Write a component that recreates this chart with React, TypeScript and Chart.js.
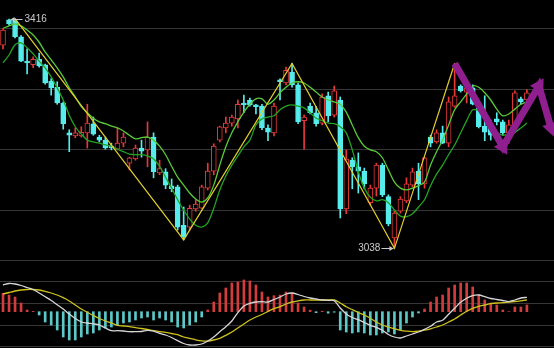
import React, { useEffect, useRef } from 'react';
import { Chart, registerables } from 'chart.js';
Chart.register(...registerables);

// ---- data ----
const SLOTS = 92; // 88 trading days + 4 projection slots
const labels: string[] = Array.from({ length: SLOTS }, (_, i) => String(i));

const opens = [3372,3414,3412,3386,3346,3340,3349,3340,3313,3303, 3277,3228,3223,3223,3228,3243,3221,3216,3206,3201, 3211,3178,3185,3203,3200,3221,3162,3164,3141,3139, 3076,3073,3103,3104,3137,3165,3216,3236,3244,3251, 3277,3282,3274,3272,3236,3228,3315,3310,3328,3307, 3248,3272,3261,3244,3289,3257,3282,3103,3183,3172, 3165,3113,3137,3175,3123,3055,3099,3116,3142,3165, 3144,3221,3213,3228,3211,3272,3305,3295,3302,3269, 3239,3241,3251,3246,3228,3239,3284,3282];
const closes = [3397,3407,3386,3346,3343,3349,3338,3310,3302,3277, 3243,3224,3228,3229,3244,3226,3216,3203,3203,3211, 3221,3187,3203,3198,3221,3164,3169,3142,3136,3073, 3057,3104,3111,3139,3165,3206,3238,3244,3254,3275, 3274,3274,3271,3236,3229,3272,3312,3331,3307,3246, 3254,3261,3243,3287,3256,3297,3103,3185,3172,3165, 3144,3137,3175,3126,3078,3096,3119,3144,3164,3144, 3187,3211,3228,3211,3279,3289,3297,3302,3275,3238, 3229,3224,3246,3228,3241,3294,3279,3294];
const highs = [3399,3415,3416,3388,3366,3353,3359,3341,3317,3312, 3279,3233,3236,3238,3275,3254,3224,3221,3211,3236, 3228,3188,3208,3216,3246,3228,3183,3169,3152,3142, 3106,3109,3118,3142,3178,3210,3239,3254,3257,3282, 3290,3285,3275,3275,3241,3277,3317,3336,3342,3310, 3257,3277,3271,3292,3295,3305,3287,3200,3187,3195, 3170,3142,3178,3178,3126,3099,3123,3154,3170,3178, 3188,3224,3233,3239,3287,3342,3307,3307,3307,3272, 3289,3249,3261,3249,3249,3297,3287,3299];
const lows = [3366,3405,3384,3345,3325,3335,3336,3308,3290,3275, 3234,3197,3220,3221,3203,3224,3213,3201,3200,3200, 3205,3167,3183,3188,3172,3154,3159,3136,3131,3068, 3052,3068,3099,3103,3134,3159,3213,3228,3239,3236, 3261,3272,3259,3233,3215,3223,3282,3307,3303,3243, 3201,3259,3239,3241,3246,3254,3088,3095,3136,3129, 3136,3109,3124,3123,3075,3038,3096,3113,3139,3118, 3137,3205,3211,3210,3205,3270,3295,3277,3274,3236, 3215,3216,3241,3224,3211,3228,3275,3279];

const maA = [3400,3404,3407,3404,3397,3389,3377,3361,3348,3335, 3320,3302,3287,3271,3261,3252,3246,3243,3239,3236, 3231,3224,3218,3220,3221,3216,3206,3192,3173,3155, 3142,3129,3119,3114,3121,3142,3175,3205,3228,3246, 3262,3275,3284,3284,3275,3282,3294,3303,3310,3312, 3310,3303,3295,3287,3282,3279,3275,3262,3241,3220, 3206,3200,3197,3187,3167,3147,3137,3134,3137,3141, 3147,3175,3197,3216,3241,3266,3279,3292,3305,3303, 3294,3282,3267,3256,3259,3267,3275,3279];
const maB = [3343,3356,3373,3376,3368,3358,3346,3335,3320,3302, 3282,3257,3238,3226,3216,3213,3211,3208,3206,3201, 3197,3193,3192,3192,3190,3185,3173,3155,3137,3118, 3101,3086,3076,3073,3080,3104,3134,3157,3175,3190, 3205,3216,3241,3251,3254,3256,3266,3272,3274,3272, 3269,3261,3252,3248,3244,3243,3238,3228,3200,3164, 3137,3122,3116,3118,3113,3101,3091,3090,3095,3106, 3118,3141,3160,3175,3192,3208,3228,3248,3266,3264, 3252,3239,3229,3224,3226,3229,3236,3244];

const zigIdx = [2, 30, 48, 65, 75];
const zigVal = [3416, 3052, 3342, 3038, 3342];

const projIdx = [75, 83, 89, 91];
const projVal = [3342, 3205, 3305, 3236];
const projRot = [0, 151, 31, 163];

const markIdx = [2, 65];
const markVal = [3416, 3038];
const markText = ['3416', '3038'];
const markSide = ['right', 'left'];

const macdHist = [18.4,16.7,14.7,8.7,1.7,0.3,-3.3,-10.3,-13.3,-18.3, -25.3,-28.3,-28.3,-25.3,-22.3,-21.3,-18.3,-16.3,-15.3,-13.3, -11.3,-10.3,-8.3,-6.3,-5.3,-8.3,-6.3,-8.3,-10.3,-15.3, -16.3,-13.3,-10.3,-5.3,1.7,9.7,18.7,23.7,28.7,29.7, 31.7,30.7,26.7,19.7,14.7,16,16.7,19.7,18.7,8.7, 4.7,1.5,-1,0.5,-1.5,-0.5,-18.3,-20.3,-21.3,-20.3, -21.3,-23.3,-23.3,-21.3,-20.3,-22.3,-18.3,-11.3,-5.3,-1.3, 2.7,9.7,14.7,16.7,23.7,26.7,28.7,28.7,24.7,16.7, 11.7,8.7,6.7,1.7,0,4.7,4.7,6.7];
const dif = [26.7,28.2,27.7,26.2,24.2,22.2,18.7,15,11.2,7, 2.7,-2.3,-6.8,-10.3,-11.3,-12.1,-13.3,-16.3,-19,-19, -19.3,-20,-20,-19.8,-18.6,-19.5,-21.6,-23.3,-25.8,-29, -31.8,-33.3,-33.3,-32.3,-29.3,-25.3,-20,-15,-9.3,-1, 5.7,8.4,9.7,10,9.7,12.2,14.7,17.7,18.7,17.2, 15.2,13.7,12.7,11.7,11.4,11,3.7,-2.3,-5.8,-8, -10.8,-13.6,-15.6,-18.6,-22.8,-25.3,-26.3,-24.3,-22.3,-20.3, -17.6,-14.6,-10.3,-8.6,-2.6,3.4,9.4,13.4,16,16.7, 15,13.2,12.2,11.2,10.1,11.7,13.7,14.4];
const dea = [17.7,19.2,20.7,21.7,22.2,22.2,21.7,20.4,18.7,16.7, 14,10.7,6.7,2.7,-0.6,-3.8,-6.8,-9.3,-11.3,-13.6, -14.3,-15,-16,-16.8,-17.8,-19,-20,-20.6,-21.8,-23, -25.3,-26.6,-28.1,-29.1,-29.3,-28.3,-26.6,-23.6,-20.3,-16.3, -12.3,-8.3,-5.3,-2.8,0.2,3,5,7.7,9.7,10.9, 11.7,11.7,11.7,11.7,11.7,11.7,8.7,5,2,-0.8, -3.3,-6.6,-10.3,-13.3,-15.3,-17,-18.6,-19.5,-20,-19.5, -18.5,-17.1,-15.3,-13.3,-10.3,-7.3,-3.3,0.4,3.4,5.4, 6.7,8,8.7,9,9.7,10.2,10.9,11.7];

const priceGrid = [3100, 3200, 3300, 3400];
const PRICE_MIN = 3022.1;
const PRICE_MAX = 3446.5;
const macdGrid = [50.7, 30.7, 8.7, -13.3, -34.3];
const MACD_MIN = -36.3;
const MACD_MAX = 53.7;

// ---- styles ----
const RED = '#e6393a';
const CYAN = '#56ecec';
const GRID = '#363636';
const MA_A = '#5acb3a';
const MA_B = '#22a322';
const ZIG = '#e2cf2e';
const PURPLE = '#8f1f8f';
const H_RED = '#d23c3c';
const H_CYAN = '#5cc8c8';
const DIF_C = '#d6d6d6';
const DEA_C = '#cfc21c';
const TXT = '#cccccc';

const W = 554;
const MAIN_H = 258;
const MACD_H = 90;

const markPlugin = {
  id: 'marks',
  afterDatasetsDraw(chart: any) {
    const { ctx, scales } = chart;
    const x = scales.x, y = scales.y;
    ctx.save();
    ctx.font = '10px "Liberation Sans", Arial, sans-serif';
    ctx.fillStyle = TXT;
    ctx.strokeStyle = TXT;
    ctx.lineWidth = 1;
    ctx.textBaseline = 'middle';
    markIdx.forEach((idx, k) => {
      const px = x.getPixelForValue(idx);
      const py = Math.round(y.getPixelForValue(markVal[k])) + 0.5;
      if (markSide[k] === 'right') {
        const tip = px - 4.5;
        ctx.beginPath();
        ctx.moveTo(tip, py);
        ctx.lineTo(tip + 12, py);
        ctx.stroke();
        ctx.beginPath();
        ctx.moveTo(tip, py);
        ctx.lineTo(tip + 4, py - 2.5);
        ctx.lineTo(tip + 4, py + 2.5);
        ctx.closePath();
        ctx.fill();
        ctx.textAlign = 'left';
        ctx.fillText(markText[k], tip + 14, py);
      } else {
        const tip = px - 1;
        ctx.beginPath();
        ctx.moveTo(tip - 12, py);
        ctx.lineTo(tip, py);
        ctx.stroke();
        ctx.beginPath();
        ctx.moveTo(tip, py);
        ctx.lineTo(tip - 4, py - 2.5);
        ctx.lineTo(tip - 4, py + 2.5);
        ctx.closePath();
        ctx.fill();
        ctx.textAlign = 'right';
        ctx.fillText(markText[k], tip - 13, py);
      }
    });
    ctx.restore();
  },
};

export default function App() {
  const mainRef = useRef<HTMLCanvasElement>(null);
  const macdRef = useRef<HTMLCanvasElement>(null);

  useEffect(() => {
    const up = closes.map((c, i) => c >= opens[i]);
    const yGrid = (ticks: number[]) => (s: any) => {
      s.ticks = ticks.map((v) => ({ value: v }));
    };

    const main = new Chart(mainRef.current as HTMLCanvasElement, {
      type: 'bar',
      data: {
        labels,
        datasets: [
          {
            type: 'bar',
            data: lows.map((l, i) => [l, highs[i]]) as any,
            backgroundColor: up.map((u) => (u ? RED : CYAN)),
            barThickness: 1,
            grouped: false,
            order: 10,
          } as any,
          {
            type: 'bar',
            data: opens.map((o, i) => [o, closes[i]]) as any,
            backgroundColor: up.map((u) => (u ? '#000000' : CYAN)),
            borderColor: up.map((u) => (u ? RED : CYAN)),
            borderWidth: 1,
            borderSkipped: false,
            barThickness: 5,
            minBarLength: 1,
            grouped: false,
            order: 9,
          } as any,
          {
            type: 'line',
            data: maB,
            borderColor: MA_B,
            borderWidth: 1.3,
            pointRadius: 0,
            tension: 0.3,
            order: 4,
          } as any,
          {
            type: 'line',
            data: maA,
            borderColor: MA_A,
            borderWidth: 1.3,
            pointRadius: 0,
            tension: 0.3,
            order: 3,
          } as any,
          {
            type: 'line',
            data: zigIdx.map((ix, k) => ({ x: labels[ix], y: zigVal[k] })),
            borderColor: ZIG,
            borderWidth: 1.2,
            pointRadius: 0,
            tension: 0,
            order: 2,
          } as any,
          {
            type: 'line',
            data: projIdx.map((ix, k) => ({ x: labels[ix], y: projVal[k] })),
            borderColor: PURPLE,
            borderWidth: 7,
            borderJoinStyle: 'miter',
            pointStyle: 'triangle',
            pointRadius: projIdx.map((_, k) => (k === 0 ? 0 : 9)),
            pointRotation: projRot,
            pointBackgroundColor: PURPLE,
            pointBorderColor: PURPLE,
            pointBorderWidth: 0,
            tension: 0,
            order: 1,
          } as any,
        ],
      },
      options: {
        responsive: false,
        animation: false,
        devicePixelRatio: 1,
        events: [],
        layout: { padding: 0, autoPadding: false },
        plugins: { legend: { display: false }, tooltip: { enabled: false } },
        scales: {
          x: { display: false, offset: true },
          y: {
            min: PRICE_MIN,
            max: PRICE_MAX,
            ticks: { display: false },
            grid: { color: GRID, drawTicks: false, lineWidth: 1 },
            border: { display: false },
            afterBuildTicks: yGrid(priceGrid),
            afterFit: (s: any) => { s.width = 0; },
          },
        },
      },
      plugins: [markPlugin],
    } as any);

    const macd = new Chart(macdRef.current as HTMLCanvasElement, {
      type: 'bar',
      data: {
        labels,
        datasets: [
          {
            type: 'bar',
            data: macdHist,
            backgroundColor: macdHist.map((v) => (v >= 0 ? H_RED : H_CYAN)),
            barThickness: 2,
            grouped: false,
            order: 5,
          } as any,
          {
            type: 'line',
            data: dea,
            borderColor: DEA_C,
            borderWidth: 1.3,
            pointRadius: 0,
            tension: 0.3,
            order: 2,
          } as any,
          {
            type: 'line',
            data: dif,
            borderColor: DIF_C,
            borderWidth: 1.3,
            pointRadius: 0,
            tension: 0.3,
            order: 1,
          } as any,
        ],
      },
      options: {
        responsive: false,
        animation: false,
        devicePixelRatio: 1,
        events: [],
        layout: { padding: 0, autoPadding: false },
        plugins: { legend: { display: false }, tooltip: { enabled: false } },
        scales: {
          x: { display: false, offset: true },
          y: {
            min: MACD_MIN,
            max: MACD_MAX,
            ticks: { display: false },
            grid: { color: GRID, drawTicks: false, lineWidth: 1 },
            border: { display: false },
            afterBuildTicks: yGrid(macdGrid),
            afterFit: (s: any) => { s.width = 0; },
          },
        },
      },
    } as any);

    return () => {
      main.destroy();
      macd.destroy();
    };
  }, []);

  return (
    <div
      style={{
        position: 'fixed',
        left: 0,
        top: 0,
        width: W,
        height: MAIN_H + MACD_H,
        background: '#000',
        overflow: 'hidden',
      }}
    >
      <canvas ref={mainRef} width={W} height={MAIN_H} style={{ display: 'block', width: W, height: MAIN_H }} />
      <canvas ref={macdRef} width={W} height={MACD_H} style={{ display: 'block', width: W, height: MACD_H }} />
    </div>
  );
}
